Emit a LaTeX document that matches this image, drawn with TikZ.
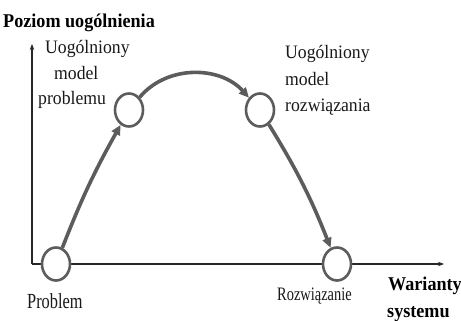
\documentclass[tikz,border=0pt]{standalone}
\usepackage{fontspec}
\setmainfont{Liberation Serif}
\newfontfamily\narrowser[FakeStretch=0.93]{Liberation Serif}
\newfontfamily\narrowerser[FakeStretch=0.76]{Liberation Serif}
\usetikzlibrary{shapes.geometric,arrows.meta}
\definecolor{arrgray}{RGB}{92,92,92}
\definecolor{txt}{RGB}{25,25,25}
\begin{document}
\begin{tikzpicture}[x=1pt,y=-1pt,
  lbl/.style={inner sep=0pt,anchor=base west,text=txt,font=\narrowser\fontsize{19}{22}\selectfont},
  lblsmall/.style={inner sep=0pt,anchor=base west,text=txt,font=\narrowerser\fontsize{21.5}{24}\selectfont},
  lblbold/.style={inner sep=0pt,anchor=base west,text=black,font=\narrowser\fontsize{19.5}{22}\selectfont\bfseries},
  stage/.style={ellipse,draw=arrgray,line width=2.6pt,fill=white,minimum width=28pt,minimum height=33pt,inner sep=0pt},
  flow/.style={draw=arrgray,line width=3.6pt,-{Triangle[length=10pt,width=9pt]}},
  axis/.style={draw=black!85,line width=1.1pt,-{Stealth[length=6pt,width=4.5pt]}}]
\useasboundingbox[fill=white] (0,0) rectangle (461,321);
\coordinate (o) at (32,264);
\coordinate (ytip) at (32,44);
\coordinate (xtip) at (444,264);
\draw[axis] (o) -- (ytip);
\draw[axis] (o) -- (xtip);
\node[stage] (p1) at (56,264) {};
\node[stage] (p2) at (129,110) {};
\node[stage] (p3) at (260,110) {};
\node[stage] (p4) at (337,264) {};
\draw[flow] (p1) to[bend left=4] (p2);
\draw[flow] (p2) to[out=50,in=132] (p3);
\draw[flow] (p3) to[bend left=5] (p4);
\node[lblbold] (ylab) at (3,28) {Poziom uogólnienia};
\node[lbl] (a1) at (45,54) {Uogólniony};
\node[lbl] (a2) at (54,80) {model};
\node[lbl] (a3) at (38,105) {problemu};
\node[lbl] (b1) at (285,59) {Uogólniony};
\node[lbl] (b2) at (285,86) {model};
\node[lbl] (b3) at (285,112) {rozwiązania};
\node[lblsmall] (c1) at (27,308) {Problem};
\node[lblsmall,font=\narrowerser\fontsize{19}{22}\selectfont] (c2) at (277,300) {Rozwiązanie};
\node[lblbold] (x1) at (388,290) {Warianty};
\node[lblbold] (x2) at (387,317) {systemu};
\end{tikzpicture}
\end{document}
